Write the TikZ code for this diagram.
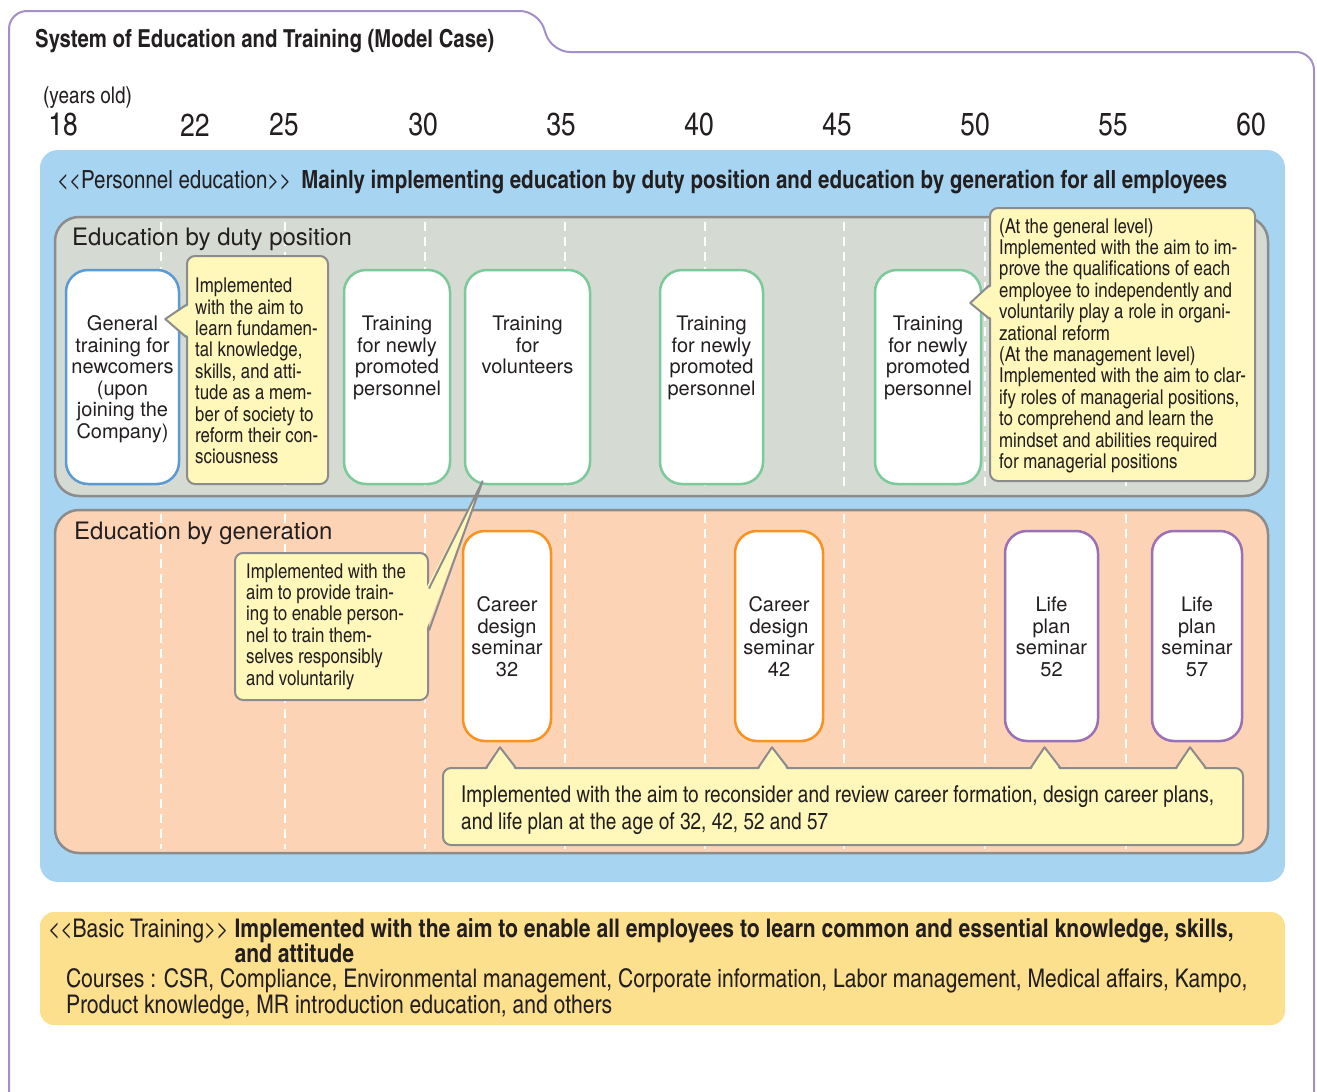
\documentclass[tikz,border=0pt]{standalone}
\usepackage{fontspec}
\setmainfont{texgyreheroscn-regular.otf}[BoldFont=texgyreheroscn-bold.otf]
\newfontfamily\plainsans{texgyreheros-regular.otf}
\usetikzlibrary{positioning,calc}

\definecolor{inkc}{HTML}{231F20}
\definecolor{framec}{HTML}{A390C8}
\definecolor{bluepanel}{HTML}{A6D4F1}
\definecolor{graypanel}{HTML}{D5DAD3}
\definecolor{salmonpanel}{HTML}{FDD3B6}
\definecolor{panelline}{HTML}{8C8C8C}
\definecolor{notefill}{HTML}{FFF8BA}
\definecolor{basicfill}{HTML}{FDE08E}
\definecolor{newcomerc}{HTML}{5B9BD5}
\definecolor{dutyc}{HTML}{7CC99A}
\definecolor{careerc}{HTML}{F7931E}
\definecolor{lifec}{HTML}{9A70B6}

\newcommand{\fs}[2]{\fontsize{#1}{#2}\selectfont}

\begin{document}
\begin{tikzpicture}[x=1pt,y=-1pt,text=inkc,
  panel/.style={draw=panelline,line width=2.5pt,rounded corners=24pt},
  guide/.style={white,line width=2pt,dash pattern=on 9pt off 6pt},
  course/.style={draw,fill=white,line width=2.5pt,rounded corners=22pt,inner sep=0pt},
  boxtext/.style={anchor=north,align=center,inner sep=0pt,font=\plainsans\fs{20}{21.5}},
  note/.style={draw=panelline,fill=notefill,line width=2pt,rounded corners=8pt,inner sep=0pt},
  notetext/.style={anchor=west,align=left,inner sep=0pt,font=\fs{20.5}{21.4}},
  pointer/.style={draw=panelline,line width=2pt,line join=round},
  age/.style={font=\fs{32}{32}}]
\useasboundingbox (0,0) rectangle (1317,1092);

% frame with tab
\draw[framec,line width=2pt,rounded corners=18pt]
  (9,1130) -- (9,11) -- (538,11) -- (552,52) -- (1314,52) -- (1314,1130);
\node[anchor=west,inner sep=0pt,font=\bfseries\fs{24.8}{24.8}] (title) at (35,41)
  {System of Education and Training (Model Case)};

% ages
\node[anchor=west,inner sep=0pt,font=\fs{23}{23}] (yrs) at (43,98) {(years old)};
\foreach \a/\x in {18/63,22/195,25/284,30/423,35/561,40/699,45/837,50/975,55/1113,60/1251}
  \node[age] (age\a) at (\x,125) {\a};

% personnel education
\fill[bluepanel,rounded corners=18pt] (40,150) rectangle (1285,882);
\node[anchor=west,inner sep=0pt,font=\fs{25}{25}] (pers) at (57,182)
  {<\kern0pt<Personnel education>\kern0pt>\hspace{10pt}\textbf{Mainly implementing education by duty position and education by generation for all employees}};

\filldraw[panel,fill=graypanel] (55,217) rectangle (1268,496);
\filldraw[panel,fill=salmonpanel] (55,510) rectangle (1268,853);
\foreach \x in {161,285,425,565,705,844,985,1126} {
  \draw[guide] (\x,222) -- (\x,492);
  \draw[guide] (\x,514) -- (\x,849);
}
\node[anchor=west,inner sep=0pt,font=\plainsans\fs{24}{24}] (duty) at (72,239) {Education by duty position};
\node[anchor=west,inner sep=0pt,font=\plainsans\fs{24}{24}] (gener) at (74,533) {Education by generation};

% duty position courses
\node[course,draw=newcomerc,minimum width=113,minimum height=214] (gen) at (122.5,377) {};
\node[course,draw=dutyc,minimum width=106,minimum height=214] (prom1) at (397,377) {};
\node[course,draw=dutyc,minimum width=125,minimum height=214] (vol) at (527.5,377) {};
\node[course,draw=dutyc,minimum width=103,minimum height=214] (prom2) at (711.5,377) {};
\node[course,draw=dutyc,minimum width=106,minimum height=214] (prom3) at (928,377) {};
\node[boxtext] (gen-t) at ([yshift=-47pt]gen.north) {General\\training for\\newcomers\\(upon\\joining the\\Company)};
\node[boxtext] (prom1-t) at ([yshift=-47pt]prom1.north) {Training\\for newly\\promoted\\personnel};
\node[boxtext] (vol-t) at ([yshift=-47pt]vol.north) {Training\\for\\volunteers};
\node[boxtext] (prom2-t) at ([yshift=-47pt]prom2.north) {Training\\for newly\\promoted\\personnel};
\node[boxtext] (prom3-t) at ([yshift=-47pt]prom3.north) {Training\\for newly\\promoted\\personnel};

% generation courses
\node[course,draw=careerc,minimum width=88,minimum height=210] (car32) at (507,636) {};
\node[course,draw=careerc,minimum width=88,minimum height=210] (car42) at (779,636) {};
\node[course,draw=lifec,minimum width=93,minimum height=210] (life52) at (1051.5,636) {};
\node[course,draw=lifec,minimum width=90,minimum height=210] (life57) at (1197,636) {};
\node[boxtext] (car32-t) at ([yshift=-67pt]car32.north) {Career\\design\\seminar\\32};
\node[boxtext] (car42-t) at ([yshift=-67pt]car42.north) {Career\\design\\seminar\\42};
\node[boxtext] (life52-t) at ([yshift=-67pt]life52.north) {Life\\plan\\seminar\\52};
\node[boxtext] (life57-t) at ([yshift=-67pt]life57.north) {Life\\plan\\seminar\\57};

% notes
\node[note,minimum width=141,minimum height=228] (c1) at (257.5,370) {};
\node[notetext] (c1-t) at ([xshift=9pt,yshift=-1pt]c1.west)
  {Implemented\\with the aim to\\learn fundamen-\\tal knowledge,\\skills, and atti-\\tude as a mem-\\ber of society to\\reform their con-\\sciousness};
\fill[notefill] ($(c1.west)+(3,-65)$) -- ($(gen.east)+(-15,-58)$) -- ($(c1.west)+(3,-33)$) -- cycle;
\draw[pointer] ($(c1.west)+(0,-65)$) -- ($(gen.east)+(-15,-58)$) -- ($(c1.west)+(0,-33)$);

\node[note,minimum width=265,minimum height=273] (c2) at (1122.5,344.5) {};
\node[notetext] (c2-t) at ([xshift=10pt,yshift=-1pt]c2.west)
  {(At the general level)\\Implemented with the aim to im-\\prove the qualifications of each\\employee to independently and\\voluntarily play a role in organi-\\zational reform\\(At the management level)\\Implemented with the aim to clar-\\ify roles of managerial positions,\\to comprehend and learn the\\mindset and abilities required\\for managerial positions};
\fill[notefill] ($(c2.west)+(3,-59)$) -- ($(prom3.east)+(-12,-74)$) -- ($(c2.west)+(3,-26)$) -- cycle;
\draw[pointer] ($(c2.west)+(0,-59)$) -- ($(prom3.east)+(-12,-74)$) -- ($(c2.west)+(0,-26)$);

\node[note,minimum width=193,minimum height=147] (c3) at (331.5,626.5) {};
\node[notetext] (c3-t) at ([xshift=12pt]c3.west)
  {Implemented with the\\aim to provide train-\\ing to enable person-\\nel to train them-\\selves responsibly\\and voluntarily};
\fill[notefill] ($(c3.east)+(-3,-38)$) -- ($(vol.south)+(-45,-4)$) -- ($(c3.east)+(-3,4)$) -- cycle;
\draw[pointer] ($(c3.east)+(0,-38)$) -- ($(vol.south)+(-45,-4)$) -- ($(c3.east)+(0,4)$);

\node[note,minimum width=800,minimum height=77] (cb) at (843,806.5) {};
\node[notetext,font=\fs{23.2}{27}] (cb-t) at ([xshift=19pt,yshift=-4pt]cb.west)
  {Implemented with the aim to reconsider and review career formation, design career plans,\\and life plan at the age of 32, 42, 52 and 57};
\foreach \b in {car32,car42,life52,life57} {
  \coordinate (\b-tip) at ($(\b.south)+(-7,5)$);
  \fill[notefill] ($(\b-tip |- cb.north)+(-14,4)$) -- (\b-tip) -- ($(\b-tip |- cb.north)+(16,4)$) -- cycle;
  \draw[pointer] ($(\b-tip |- cb.north)+(-14,1)$) -- (\b-tip) -- ($(\b-tip |- cb.north)+(16,1)$);
}

% basic training
\node[fill=basicfill,rounded corners=14pt,minimum width=1245,minimum height=113,inner sep=0pt] (basic) at (662.5,968.5) {};
\node[anchor=west,align=left,inner sep=0pt,font=\fs{25.7}{25.3}] (basic-t) at ([xshift=8pt]basic.west)
  {<\kern0pt<Basic Training>\kern0pt> \textbf{Implemented with the aim to enable all employees to learn common and essential knowledge, skills,}\\
   \phantom{<\kern0pt<Basic Training>\kern0pt> }\textbf{and attitude}\\
   \hspace*{18pt}Courses : CSR, Compliance, Environmental management, Corporate information, Labor management, Medical affairs, Kampo,\\
   \hspace*{18pt}Product knowledge, MR introduction education, and others};
\end{tikzpicture}
\end{document}
